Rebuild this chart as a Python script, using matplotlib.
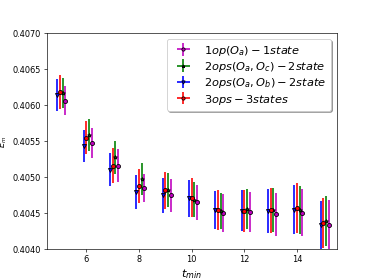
import numpy as np
import matplotlib
matplotlib.use("Agg")
import matplotlib.pyplot as plt
from matplotlib.container import ErrorbarContainer
from matplotlib.legend_handler import HandlerErrorbar

# t_min values
t_min = np.array([5, 6, 7, 8, 9, 10, 11, 12, 13, 14, 15])

# 1op(O_a) - 1state  (magenta)
e_1op = [0.406063, 0.405476, 0.405160, 0.404847, 0.404747, 0.404648,
         0.404501, 0.404517, 0.404482, 0.404508, 0.404341]
err_1op = [0.000202, 0.000209, 0.000232, 0.000190, 0.000228, 0.000249,
           0.000260, 0.000279, 0.000302, 0.000325, 0.000338]

# 2ops(O_a,O_c) - 2state  (green)
e_2ops_ac = [0.406166, 0.405585, 0.405274, 0.404975, 0.404824, 0.404689,
             0.404531, 0.404554, 0.404540, 0.404546, 0.404396]
err_2ops_ac = [0.000209, 0.000219, 0.000226, 0.000225, 0.000237, 0.000246,
               0.000248, 0.000279, 0.000306, 0.000336, 0.000348]

# 2ops(O_a,O_b) - 2state  (blue)
e_2ops_ab = [0.406142, 0.405432, 0.405106, 0.404799, 0.404747, 0.404709,
             0.404543, 0.404536, 0.404535, 0.404547, 0.404331]
err_2ops_ab = [0.000221, 0.000221, 0.000226, 0.000237, 0.000240, 0.000256,
               0.000267, 0.000286, 0.000304, 0.000338, 0.000338]

# 3ops - 3states  (red)
e_3ops = [0.406180, 0.405547, 0.405159, 0.404875, 0.404819, 0.404716,
          0.404540, 0.404529, 0.404540, 0.404568, 0.404363]
err_3ops = [0.000232, 0.000232, 0.000240, 0.000237, 0.000255, 0.000273,
            0.000279, 0.000290, 0.000311, 0.000348, 0.000354]

fig = plt.figure(figsize=(6.4, 4.8), dpi=58.4375)
ax = fig.add_subplot(111)

# (label, values, errors, colour, marker, x shift)
series = [
    (r'$1op(O_a) - 1state$', e_1op, err_1op, 'm', 'o', 0.2),
    (r'$2ops(O_a,O_c) - 2state$', e_2ops_ac, err_2ops_ac, 'g', '*', 0.1),
    (r'$2ops(O_a,O_b) - 2state$', e_2ops_ab, err_2ops_ab, 'b', 'v', -0.1),
    (r'$3ops - 3states$', e_3ops, err_3ops, 'r', 'o', 0.0),
]

for lab, y, yerr, col, mk, dx in series:
    ax.errorbar(t_min + dx, y, yerr=yerr, xerr=0, fmt=mk, color=col,
                ecolor=col, elinewidth=2, mec='k', ms=5, capsize=0,
                label=lab)

ax.set_xlim(4.5, 15.5)
ax.set_ylim(0.4040, 0.4070)
ax.set_yticks([0.4040, 0.4045, 0.4050, 0.4055, 0.4060, 0.4065, 0.4070])
ax.set_xticks([6, 8, 10, 12, 14])
ax.yaxis.set_major_formatter(matplotlib.ticker.FormatStrFormatter('%.4f'))
ax.set_xlabel(r'$t_{min}$', fontsize=14)
ax.set_ylabel(r'$E_m$')
ax.legend(loc='upper right', fontsize=14, shadow=True, handlelength=2.1,
          labelspacing=0.2, markerscale=0.8,
          handler_map={ErrorbarContainer: HandlerErrorbar(xerr_size=0.55)})

fig.savefig('out.png', dpi=58.4375)
